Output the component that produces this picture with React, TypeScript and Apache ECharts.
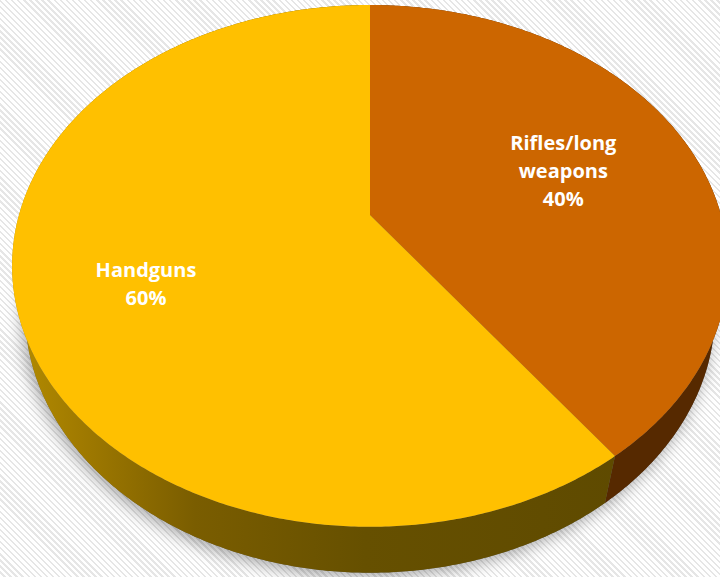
import React, { useEffect, useRef } from 'react';
import * as echarts from 'echarts';

// ---- data ----
const CATEGORIES = ['Rifles/long weapons', 'Handguns'];
const LABEL_TEXT = ['Rifles/long\nweapons', 'Handguns'];
const VALUES = [40, 60];
const TOP_COLORS = ['#CC6600', '#FFC000'];

// ---- geometry (perspective projection of the pie disc) ----
const CX = 370;
const CY = 215;
const A = 351;
const B = 251;
const K = 0.195;
const VX = 370;
const VY = 1600;
const E = 0.036;
const LABEL_RHO = [0.6, 0.645];
const LABEL_DY = [0, 16];

function proj(angDeg: number, rho: number) {
  const r = (angDeg * Math.PI) / 180;
  const u = Math.cos(r) * rho;
  const v = Math.sin(r) * rho;
  const w = 1 + K * v;
  const x = CX + (A * u) / w;
  const y = CY - (B * v) / w;
  const f = E / (w + E);
  return { top: [x, y], bottom: [x + f * (VX - x), y + f * (VY - y)] };
}

const sideGradHandgun = () =>
  new echarts.graphic.LinearGradient(
    10, 0, 720, 0,
    [
      { offset: 0, color: '#B58D00' },
      { offset: 0.1, color: '#A07A00' },
      { offset: 0.26, color: '#7A5D00' },
      { offset: 0.5, color: '#665000' },
      { offset: 1, color: '#5C4800' },
    ],
    true
  );

export default function App() {
  const ref = useRef<HTMLDivElement>(null);
  useEffect(() => {
    const chart = echarts.init(ref.current!, null, { renderer: 'svg' });
    const total = VALUES.reduce((s, v) => s + v, 0);

    const renderItem = (params: any, api: any) => {
      const i = params.dataIndex;
      const val = api.value(0);
      let cum = 0;
      for (let j = 0; j < i; j++) cum += VALUES[j];
      const a0 = 90 - (360 * cum) / total;
      const a1 = 90 - (360 * (cum + val)) / total;
      const steps = Math.max(8, Math.ceil(Math.abs(a1 - a0) * 2));
      const tops: number[][] = [];
      const bots: number[][] = [];
      for (let s = 0; s <= steps; s++) {
        const p = proj(a0 + ((a1 - a0) * s) / steps, 1);
        tops.push(p.top);
        bots.push(p.bottom);
      }
      const side = tops.concat(bots.slice().reverse());
      const topFace = [[CX, CY]].concat(tops);
      const mid = (a0 + a1) / 2;
      const lp = proj(mid, LABEL_RHO[i]).top;
      const pct = Math.round((val / total) * 100) + '%';
      const children: any[] = [];
      if (i === 0) {
        const ring: number[][] = [];
        for (let s = 0; s < 720; s++) ring.push(proj(s / 2, 1).bottom);
        children.push({
          type: 'polygon',
          z2: 0,
          shape: { points: ring },
          style: {
            fill: '#666',
            shadowBlur: 16,
            shadowColor: 'rgba(0,0,0,0.35)',
            shadowOffsetX: -3,
            shadowOffsetY: 4,
          },
        });
      }
      children.push({
        type: 'polygon',
        z2: 1,
        shape: { points: side },
        style: { fill: i === 1 ? sideGradHandgun() : '#562900' },
      });
      children.push({
        type: 'polygon',
        z2: 2,
        shape: { points: topFace },
        style: { fill: TOP_COLORS[i] },
      });
      children.push({
        type: 'text',
        z2: 3,
        style: {
          text: LABEL_TEXT[i] + '\n' + pct,
          x: lp[0],
          y: lp[1] + LABEL_DY[i],
          align: 'center',
          verticalAlign: 'middle',
          fill: '#FFFFFF',
          font: 'bold 20px "Open Sans", sans-serif',
          lineHeight: 28,
        },
      });
      return { type: 'group', children };
    };

    chart.setOption({
      animation: false,
      backgroundColor: 'transparent',
      series: [
        {
          type: 'custom',
          coordinateSystem: 'none',
          silent: true,
          data: VALUES.map((v, i) => ({ name: CATEGORIES[i], value: v })),
          renderItem,
        },
      ],
    });
    return () => chart.dispose();
  }, []);
  return (
    <div
      ref={ref}
      style={{
        position: 'absolute',
        left: 0,
        top: 0,
        width: 720,
        height: 577,
        background:
          'repeating-linear-gradient(45deg, #ffffff 0px, #ffffff 2.6px, #e6e6e6 2.6px, #e6e6e6 4.3px)',
      }}
    />
  );
}
